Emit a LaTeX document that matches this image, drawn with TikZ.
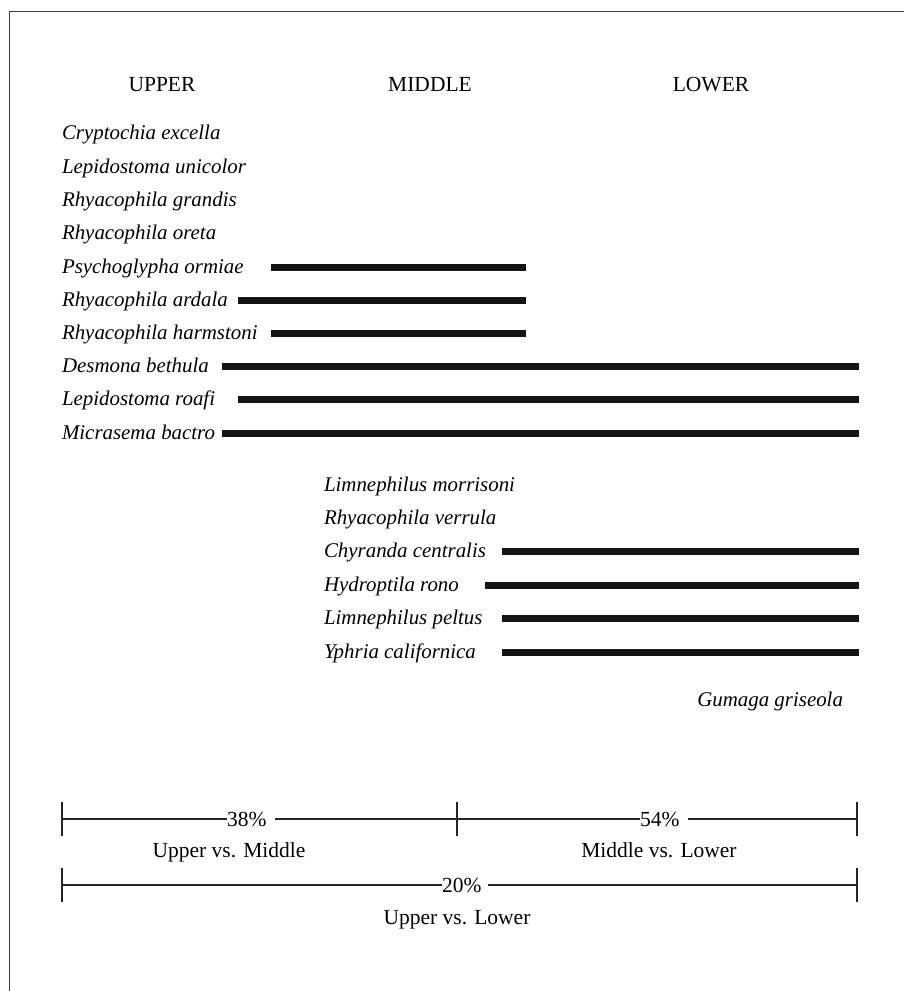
\documentclass[tikz,border=0pt]{standalone}
\usepackage{fontspec}
\setmainfont{Liberation Serif}
\begin{document}
\begin{tikzpicture}[x=1bp,y=-1bp,
  every node/.style={font=\fontsize{21.5bp}{24bp}\selectfont, inner sep=0pt, outer sep=0pt},
  sp/.style={anchor=base west, font=\fontsize{20.9bp}{24bp}\selectfont\itshape},
  hdr/.style={anchor=base},
  bar/.style={line width=7bp, line cap=butt, black!92},
  frame/.style={line width=1.3bp, black!75},
  scl/.style={line width=1.5bp, black!85},
  pct/.style={anchor=base west, fill=white, inner ysep=3bp},
  lbl/.style={anchor=base}]
\useasboundingbox (0,0) rectangle (904,991);
% frame
\coordinate (f1) at (9.5,11.5);
\coordinate (f2) at (904,11.5);
\coordinate (f3) at (9.5,991);
\draw[frame] (f2) -- (f1) -- (f3);
% headers
\node[hdr] (hU) at (162,91) {UPPER};
\node[hdr] (hM) at (430,91) {MIDDLE};
\node[hdr] (hL) at (711,91) {LOWER};
% upper species
\node[sp] (s1) at (62,139) {Cryptochia excella};
\node[sp] (s2) at (62,173) {Lepidostoma unicolor};
\node[sp] (s3) at (62,206) {Rhyacophila grandis};
\node[sp] (s4) at (62,239) {Rhyacophila oreta};
\node[sp] (s5) at (62,273) {Psychoglypha ormiae};
\node[sp] (s6) at (62,306) {Rhyacophila ardala};
\node[sp] (s7) at (62,339) {Rhyacophila harmstoni};
\node[sp] (s8) at (62,372) {Desmona bethula};
\node[sp] (s9) at (62,405) {Lepidostoma roafi};
\node[sp] (s10) at (62,439) {Micrasema bactro};
% lower species
\node[sp] (t1) at (324,491) {Limnephilus morrisoni};
\node[sp] (t2) at (324,524) {Rhyacophila verrula};
\node[sp] (t3) at (324,557) {Chyranda centralis};
\node[sp] (t4) at (324,591) {Hydroptila rono};
\node[sp] (t5) at (324,624) {Limnephilus peltus};
\node[sp] (t6) at (324,658) {Yphria californica};
\node[sp, anchor=base east] (g1) at (843,706) {Gumaga griseola};
% bar end points
\coordinate (b5a) at (271,267);  \coordinate (b5b) at (526,267);
\coordinate (b6a) at (238,300);  \coordinate (b6b) at (526,300);
\coordinate (b7a) at (271,333);  \coordinate (b7b) at (526,333);
\coordinate (b8a) at (222,366);  \coordinate (b8b) at (859,366);
\coordinate (b9a) at (238,399);  \coordinate (b9b) at (859,399);
\coordinate (b10a) at (222,433); \coordinate (b10b) at (859,433);
\coordinate (c3a) at (502,551);  \coordinate (c3b) at (859,551);
\coordinate (c4a) at (485,585);  \coordinate (c4b) at (859,585);
\coordinate (c5a) at (502,618);  \coordinate (c5b) at (859,618);
\coordinate (c6a) at (502,652);  \coordinate (c6b) at (859,652);
\draw[bar] (b5a) -- (b5b);
\draw[bar] (b6a) -- (b6b);
\draw[bar] (b7a) -- (b7b);
\draw[bar] (b8a) -- (b8b);
\draw[bar] (b9a) -- (b9b);
\draw[bar] (b10a) -- (b10b);
\draw[bar] (c3a) -- (c3b);
\draw[bar] (c4a) -- (c4b);
\draw[bar] (c5a) -- (c5b);
\draw[bar] (c6a) -- (c6b);
% similarity scale
\coordinate (r1l) at (62,819);  \coordinate (r1m) at (457,819); \coordinate (r1r) at (857,819);
\coordinate (r2l) at (62,885);  \coordinate (r2r) at (857,885);
\draw[scl] (r1l) -- (r1r);
\draw[scl] (r2l) -- (r2r);
\draw[scl] ([yshift=-17bp]r1l) -- ([yshift=17bp]r1l);
\draw[scl] ([yshift=-17bp]r1m) -- ([yshift=17bp]r1m);
\draw[scl] ([yshift=-17bp]r1r) -- ([yshift=17bp]r1r);
\draw[scl] ([yshift=-17bp]r2l) -- ([yshift=17bp]r2l);
\draw[scl] ([yshift=-17bp]r2r) -- ([yshift=17bp]r2r);
\node[pct] (p38) at (227,826) {38\%\kern9bp\null};
\node[pct] (p54) at (640,826) {54\%\kern9bp\null};
\node[pct] (p20) at (442,892) {20\%\kern7bp\null};
\node[lbl] (l1) at (229,857) {Upper vs. Middle};
\node[lbl] (l2) at (659,857) {Middle vs. Lower};
\node[lbl] (l3) at (457,924) {Upper vs. Lower};
\end{tikzpicture}
\end{document}
